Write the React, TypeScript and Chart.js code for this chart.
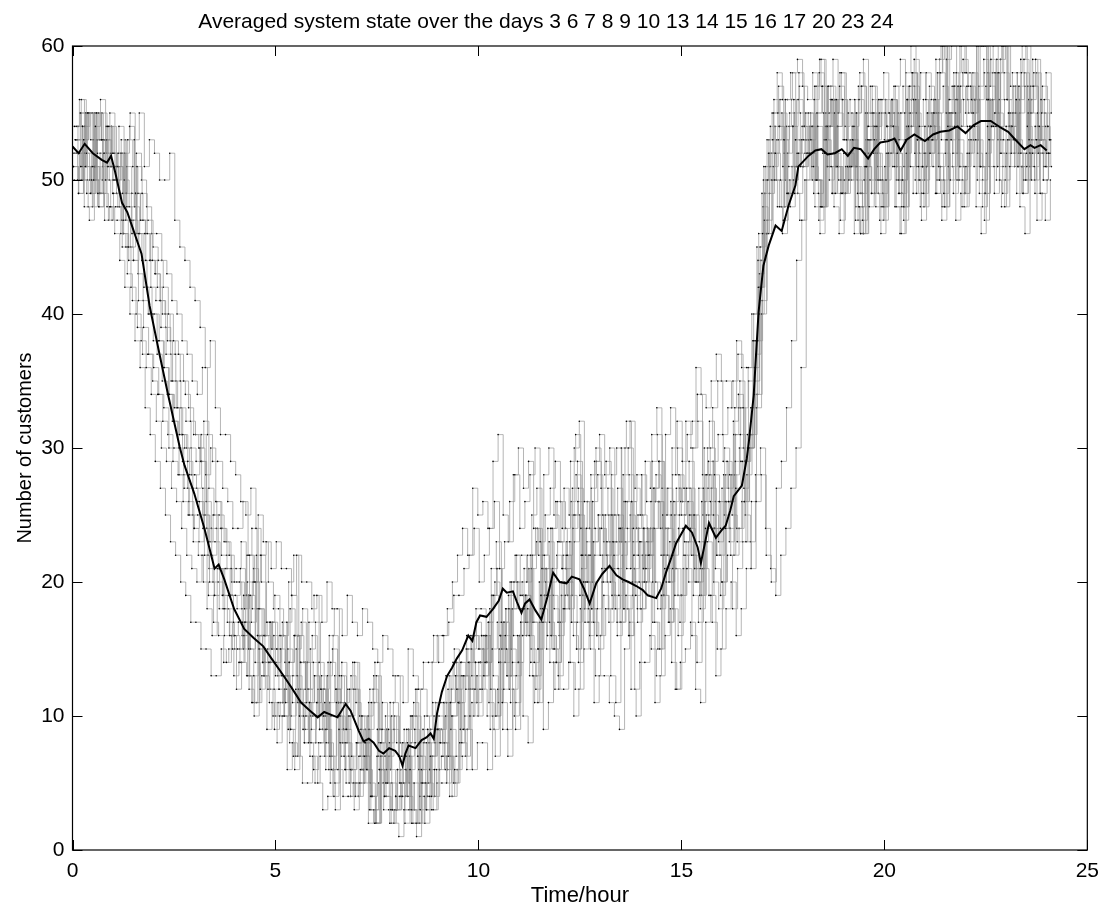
import React, { useEffect, useRef } from 'react';
import { Chart, registerables } from 'chart.js';

Chart.register(...registerables);

const TITLE = 'Averaged system state over the days 3 6 7 8 9 10 13 14 15 16 17 20 23 24';
const X_LABEL = 'Time/hour';
const Y_LABEL = 'Number of customers';
const X_TICKS = [0, 5, 10, 15, 20, 25];
const Y_TICKS = [0, 10, 20, 30, 40, 50, 60];
const DAY_STEP_HOURS = 0.125;

// Individual days: number of customers every 7.5 minutes from the day's first record (193 values, 8 per hour)
const DAY_3 = [52,50,54,55,51,49,53,51, 50,52,47,45,44,41,39,37, 36,34,33,30,30,28,27,25, 24,26,22,20,19,21,18,16, 16,14,17,19,14,12,15,17, 13,15,11,9,12,14,10,8, 10,12,8,6,11,13,9,7, 8,10,6,4,7,9,5,3, 6,4,8,10,7,5,9,11, 9,7,12,14,11,9,14,16, 15,13,17,19,14,12,18,20, 18,21,16,14,20,22,17,15, 20,18,23,25,19,17,22,24, 22,25,20,18,24,26,21,19, 23,21,26,28,22,20,25,27, 25,27,22,20,26,28,24,22, 27,29,25,23,29,31,33,38, 46,50,53,55,51,49,54,56, 53,55,51,49,55,57,52,50, 52,50,54,56,50,48,53,55, 53,55,51,49,55,57,52,50, 54,52,56,58,52,50,55,57, 55,57,53,51,57,59,54,52, 54,52,56,58,52,50,53,55, 52];
const DAY_6 = [53,55,51,49,54,56,50,48, 48,46,45,42,40,38,36,34, 32,30,29,27,26,24,22,21, 20,22,18,16,21,19,17,15, 15,17,13,11,16,14,12,10, 11,13,9,7,12,10,8,6, 8,10,6,4,9,7,5,3, 5,7,3,2,6,4,2,3, 4,2,6,8,3,5,7,9, 8,10,11,13,14,12,16,18, 18,16,21,23,17,15,20,22, 22,20,25,27,21,19,24,26, 24,22,27,29,22,20,26,28, 25,27,23,21,28,30,24,22, 24,22,27,29,22,20,26,28, 27,29,25,23,30,32,28,26, 30,28,33,35,29,31,38,45, 51,54,52,50,56,58,53,51, 55,53,57,59,53,51,56,58, 53,51,55,57,51,49,54,56, 54,56,52,50,56,58,53,51, 55,53,58,60,54,52,57,59, 57,55,60,60,56,54,58,60, 55,53,57,59,53,51,54,56, 53];
const DAY_7 = [51,49,53,55,50,48,52,54, 52,54,50,48,53,55,51,53, 52,50,50,52,47,45,44,42, 41,39,36,38,33,31,31,29, 28,26,25,27,24,22,23,21, 23,21,21,19,22,20,20,18, 19,17,20,18,18,16,19,17, 16,18,17,15,14,16,15,13, 13,11,15,13,12,14,14,16, 14,16,17,19,19,21,22,24, 20,22,24,26,21,23,26,28, 24,26,28,30,23,25,27,29, 26,24,29,31,24,22,28,30, 27,29,25,23,30,32,26,24, 28,26,31,33,27,25,30,32, 29,31,32,34,28,30,33,35, 31,33,35,37,33,36,38,42, 50,52,55,57,53,51,56,58, 54,52,56,58,52,50,55,57, 53,51,56,58,52,50,54,56, 55,53,57,59,53,51,56,58, 56,54,59,60,55,53,58,60, 58,56,60,60,56,54,59,60, 56,54,58,60,54,52,55,57, 54];
const DAY_8 = [54,56,52,50,55,53,53,51, 50,52,48,46,51,49,46,44, 42,40,38,35,33,31,29,27, 26,24,23,25,21,19,19,17, 17,19,15,13,18,16,14,12, 12,10,14,16,10,8,11,13, 9,11,7,5,10,8,6,4, 6,8,4,2,7,5,3,4, 5,7,3,2,6,8,4,6, 7,5,10,12,8,6,11,13, 12,10,15,17,11,9,14,16, 16,18,13,11,17,19,15,13, 18,20,16,14,20,22,17,15, 19,17,22,24,18,16,21,23, 20,22,17,15,21,23,19,17, 22,24,20,18,24,26,21,19, 24,22,27,29,23,21,26,28, 22,20,27,29,33,38,44,47, 52,54,50,48,54,56,51,49, 51,53,49,47,53,55,50,48, 52,54,50,48,54,56,51,49, 53,55,51,49,55,57,50,48, 52,54,49,47,53,55,50,48, 51,53,48,46,52,54,49,47, 50];
const DAY_9 = [50,52,48,47,51,49,47,48, 46,44,42,40,38,36,33,31, 29,27,25,23,22,20,19,17, 17,15,15,13,13,15,14,16, 12,14,13,11,11,13,9,11, 8,10,6,8,7,5,5,7, 5,3,4,6,6,4,4,5, 4,6,2,3,5,3,3,2, 1,3,3,5,2,4,4,6, 6,8,4,6,8,10,10,12, 12,14,9,7,14,16,11,9, 17,19,14,12,19,21,16,14, 20,22,17,15,22,24,18,16, 21,23,19,17,24,26,20,18, 22,24,20,18,25,27,21,19, 24,26,22,20,27,29,25,23, 28,26,31,33,27,30,34,40, 47,52,50,48,53,55,49,47, 50,52,48,46,52,54,49,47, 49,51,47,46,51,53,48,46, 50,52,48,46,52,54,49,47, 51,53,49,47,53,55,50,48, 52,54,50,48,54,56,51,49, 53,55,51,49,55,57,52,50, 52];
const DAY_10 = [53,51,55,55,52,50,54,52, 51,49,53,51,49,47,47,45, 44,42,40,38,37,35,33,31, 30,32,27,25,25,23,22,20, 20,18,22,20,18,16,17,19, 16,14,18,16,14,12,15,17, 12,10,14,12,11,9,13,11, 9,7,11,13,8,6,10,8, 7,9,10,12,12,10,14,16, 16,18,20,22,24,22,27,25, 26,24,29,31,25,23,28,30, 27,29,24,22,28,30,25,23, 27,25,30,32,26,24,29,31, 28,30,25,23,30,32,27,25, 29,27,26,24,31,33,28,26, 32,30,36,34,33,35,37,35, 35,33,38,36,36,40,45,49, 53,55,58,56,56,58,59,57, 56,58,54,52,57,59,55,53, 55,53,57,59,54,52,56,58, 55,57,53,51,57,59,54,52, 57,55,59,60,56,54,60,58, 58,56,60,60,57,55,59,60, 57,55,59,60,55,53,56,58, 55];
const DAY_13 = [52,54,50,48,53,55,49,47, 49,51,46,44,44,46,42,40, 40,38,36,34,33,31,30,28, 28,30,25,23,23,21,21,19, 19,21,17,15,20,22,16,14, 14,16,12,10,15,17,11,9, 11,13,9,7,12,14,8,6, 8,10,6,4,9,11,5,3, 6,8,4,2,7,9,5,3, 9,11,7,5,11,13,12,10, 14,16,11,9,15,17,12,10, 16,18,13,11,17,19,14,12, 17,19,14,12,18,20,15,13, 16,18,13,11,17,19,12,10, 18,20,15,13,19,21,14,12, 19,21,16,14,21,23,17,15, 20,22,18,21,23,30,38,44, 48,46,51,53,47,49,50,52, 51,53,49,47,53,55,48,46, 50,52,46,48,51,53,49,47, 51,53,48,46,53,55,50,48, 52,54,49,51,53,55,47,49, 51,53,48,46,52,54,50,48, 52,54,49,51,51,53,47,49, 50];
const DAY_14 = [53,51,55,53,51,49,54,52, 51,53,49,47,52,50,48,46, 46,44,43,41,40,38,37,35, 34,36,31,29,29,27,26,24, 24,26,22,20,25,23,20,18, 18,16,20,22,16,14,17,19, 14,12,16,18,13,11,12,14, 10,8,12,14,9,7,11,13, 8,6,10,12,7,5,9,11, 11,13,9,7,13,15,15,17, 16,14,19,21,15,13,18,20, 19,17,22,24,18,16,21,23, 21,19,24,26,19,17,23,25, 20,18,23,25,18,16,22,24, 21,19,24,26,19,17,23,25, 23,25,21,19,26,28,24,22, 26,24,29,31,25,23,28,30, 24,21,19,22,24,27,30,36, 50,52,50,48,54,56,51,49, 53,55,51,49,55,57,52,50, 54,56,52,50,56,58,53,51, 53,51,55,57,51,49,54,56, 55,53,57,59,53,51,56,58, 54,52,56,58,52,50,53,55, 53];
const DAY_15 = [52,50,49,51,53,55,48,47, 47,45,43,41,39,37,37,35, 34,32,31,29,28,26,25,23, 22,20,19,17,16,14,15,13, 14,16,12,10,15,13,11,9, 10,12,8,6,11,9,7,5, 7,9,5,3,8,6,4,5, 5,7,3,2,6,4,2,3, 4,6,2,1,5,3,3,5, 5,7,4,6,7,9,6,8, 8,6,10,12,9,7,12,14, 10,8,13,15,9,11,14,12, 12,14,10,12,15,17,11,13, 13,11,10,9,15,17,12,14, 14,16,11,13,16,18,12,14, 15,17,12,11,17,19,13,15, 18,20,16,18,21,26,33,40, 46,50,53,55,49,51,52,54, 52,50,55,57,51,49,54,56, 51,53,47,46,52,54,49,47, 52,54,49,47,54,56,50,48, 53,55,50,48,55,57,51,49, 54,56,51,49,56,58,52,50, 55,57,52,50,57,59,53,51, 53];
const DAY_16 = [51,49,53,55,50,48,52,50, 50,48,52,54,48,46,46,44, 43,41,40,38,37,35,34,32, 31,29,28,30,26,24,23,21, 21,23,19,17,22,20,17,15, 15,13,17,19,13,11,14,16, 11,9,13,15,10,8,12,14, 8,6,10,12,7,5,9,11, 7,5,9,11,6,8,8,10, 10,8,13,15,11,9,14,16, 15,13,18,20,16,14,20,22, 19,17,22,24,18,20,24,26, 23,21,26,28,22,20,27,29, 24,22,28,30,23,21,26,28, 25,23,29,31,24,22,28,30, 26,24,30,32,25,27,29,31, 29,27,32,34,30,35,40,46, 51,53,56,54,52,54,55,57, 54,52,57,59,53,51,56,58, 54,56,51,49,55,57,52,50, 56,54,53,55,58,60,55,53, 58,56,55,53,59,60,56,54, 57,55,60,60,56,54,58,60, 56,58,53,51,57,59,54,52, 54];
const DAY_17 = [52,50,54,55,50,52,53,51, 50,52,47,45,49,47,44,42, 41,39,37,35,33,31,30,28, 27,29,24,22,26,24,21,19, 18,16,20,18,16,14,15,17, 13,11,15,13,11,9,12,14, 10,12,8,6,11,9,7,5, 7,5,9,11,6,4,8,10, 5,3,7,9,4,2,6,8, 8,6,11,13,9,7,12,14, 14,16,12,10,16,18,15,13, 18,16,21,23,17,15,20,22, 21,23,19,17,24,26,20,18, 22,20,25,27,20,18,23,25, 21,23,24,26,19,17,22,24, 22,20,25,27,21,19,24,26, 25,23,28,30,26,30,35,42, 49,51,54,56,50,48,53,55, 53,55,50,48,55,57,52,50, 52,50,55,57,51,49,53,55, 54,56,51,49,56,58,53,51, 55,53,58,60,53,51,56,58, 56,58,53,51,58,60,55,53, 55,57,52,50,56,58,53,51, 52];
const DAY_20 = [53,55,51,49,55,53,52,54, 49,47,51,49,46,44,42,40, 37,35,34,32,31,29,27,25, 25,27,22,20,20,18,18,16, 17,15,19,21,15,13,14,16, 12,10,14,16,10,8,11,13, 9,7,11,13,8,6,10,12, 7,9,5,3,8,10,6,4, 6,4,8,10,5,3,7,9, 9,11,12,14,14,16,13,11, 16,14,19,21,15,13,18,20, 20,22,17,15,22,24,19,17, 22,20,25,27,20,18,23,25, 23,25,21,19,26,28,22,20, 24,22,27,29,22,20,25,27, 25,27,23,21,28,30,26,24, 28,26,31,33,29,33,37,44, 50,52,50,48,54,56,51,53, 53,51,55,57,51,49,54,56, 52,54,50,48,54,56,51,49, 53,51,55,57,51,49,54,56, 54,56,52,50,56,58,53,51, 53,51,56,58,51,49,54,56, 53,51,55,57,51,49,52,54, 52];
const DAY_23 = [52,54,50,48,53,51,51,49, 48,46,45,47,43,41,40,38, 38,36,34,32,30,28,26,24, 23,25,21,19,18,16,17,15, 15,17,13,11,16,14,12,10, 11,13,9,7,12,14,10,8, 8,6,10,12,7,5,6,8, 6,8,4,2,7,9,5,3, 5,7,3,2,6,4,7,9, 8,6,10,12,13,15,12,10, 15,17,13,11,17,19,16,14, 19,21,17,15,21,23,18,16, 20,18,23,25,18,16,22,24, 21,23,19,17,23,25,20,18, 22,24,20,18,24,26,21,19, 23,25,21,19,25,27,22,20, 26,28,24,26,28,31,34,41, 47,50,48,46,52,54,49,51, 52,54,50,48,54,56,51,49, 51,53,48,46,53,55,50,48, 53,55,50,48,55,57,52,50, 52,54,50,48,54,56,51,49, 54,56,51,49,56,58,53,51, 54,56,52,50,56,58,53,51, 51];
const DAY_24 = [54,56,52,50,55,53,53,55, 51,49,53,55,49,47,46,44, 43,41,39,37,35,33,32,30, 29,31,26,24,24,22,22,20, 20,18,22,24,18,16,17,15, 15,17,13,11,16,18,12,10, 12,10,14,16,11,9,10,12, 9,7,11,13,8,6,7,9, 7,9,5,3,8,10,6,4, 9,11,7,5,11,13,12,14, 14,16,12,10,16,18,13,11, 17,19,15,13,19,21,16,14, 19,21,17,15,21,23,18,16, 20,22,18,16,22,24,19,17, 20,22,17,15,22,24,18,16, 21,23,19,17,23,25,20,18, 24,26,22,24,26,30,36,43, 46,49,52,54,48,50,51,53, 52,54,50,48,54,56,51,49, 51,53,48,46,53,55,50,48, 52,54,50,48,54,56,51,49, 53,55,50,48,55,57,52,50, 54,56,52,50,56,58,53,51, 53,55,51,49,55,57,52,50, 52];

const DAYS = [DAY_3, DAY_6, DAY_7, DAY_8, DAY_9, DAY_10, DAY_13, DAY_14, DAY_15, DAY_16, DAY_17, DAY_20, DAY_23, DAY_24];
const DAY_NAMES = ['3', '6', '7', '8', '9', '10', '13', '14', '15', '16', '17', '20', '23', '24'];
// time of each day's first record, in hours
const DAY_START_HOURS = [0, 0.065, 0.02, 0.09, 0.04, 0.11, 0.01, 0.075, 0.1, 0.03, 0.055, 0.085, 0.115, 0.045];

// Averaged system state (black line)
const AVG_T = [0,0.15,0.3,0.5,0.72,0.85,0.95,1.05,1.22,1.35,1.53,1.7,1.9,2.15,2.36,2.64,2.76,3.0,3.25,3.5,3.6,3.74,3.98,4.23,4.47,4.7,4.9,5.2,5.4,5.63,5.85,6.04,6.2,6.36,6.53,6.65,6.73,6.85,6.93,7.05,7.17,7.3,7.42,7.55,7.66,7.8,7.95,8.05,8.13,8.2,8.28,8.45,8.6,8.72,8.82,8.9,8.98,9.1,9.23,9.35,9.47,9.6,9.75,9.85,9.95,10.04,10.2,10.36,10.5,10.6,10.7,10.85,10.95,11.06,11.15,11.26,11.4,11.55,11.7,11.84,12.0,12.17,12.3,12.49,12.6,12.74,12.9,13.05,13.23,13.4,13.55,13.7,13.89,14.05,14.17,14.38,14.5,14.62,14.75,14.87,15.0,15.11,15.26,15.4,15.48,15.6,15.68,15.85,16.0,16.09,16.2,16.29,16.49,16.61,16.66,16.78,16.9,17.02,17.15,17.32,17.47,17.64,17.81,17.88,18.13,18.3,18.45,18.6,18.78,18.95,19.1,19.25,19.42,19.6,19.75,19.9,20.1,20.25,20.4,20.55,20.74,21.0,21.2,21.38,21.6,21.8,22.0,22.2,22.38,22.62,22.87,23.05,23.2,23.45,23.6,23.7,23.85,24.0];
const AVG_V = [52.5,52.0,52.7,52.0,51.5,51.3,51.8,50.6,48.3,47.6,46.0,44.5,40.6,36.9,33.9,30.1,28.7,26.6,24.0,21.0,21.3,20.2,18.0,16.5,15.8,15.2,14.3,13.0,12.1,11.0,10.4,9.9,10.3,10.1,9.9,10.5,10.9,10.4,9.8,8.9,8.1,8.3,8.0,7.4,7.2,7.6,7.4,7.0,6.3,7.2,7.8,7.6,8.2,8.4,8.7,8.3,10.2,11.8,13.0,13.6,14.3,14.9,16.0,15.6,17.0,17.5,17.4,18.0,18.6,19.5,19.2,19.3,18.5,17.7,18.4,18.7,17.9,17.2,18.9,20.7,20.0,19.9,20.4,20.2,19.5,18.4,19.9,20.6,21.2,20.5,20.2,20.0,19.7,19.4,19.0,18.8,19.5,20.7,21.8,22.9,23.6,24.2,23.7,22.6,21.4,23.2,24.4,23.3,23.9,24.2,25.3,26.4,27.2,29.2,30.4,33.9,40.1,43.6,45.1,46.6,46.2,48.1,49.6,51.0,51.8,52.2,52.3,51.9,52.0,52.3,51.8,52.4,52.3,51.6,52.3,52.8,52.9,53.1,52.2,53.0,53.4,52.9,53.4,53.6,53.7,54.0,53.5,54.1,54.4,54.4,53.9,53.6,53.1,52.3,52.6,52.4,52.6,52.2];

const FONT_FAMILY = "'Liberation Sans', Arial, Helvetica, sans-serif";

const framePlugin = {
  id: 'matlabFrame',
  afterDatasetsDraw(chart: any) {
    const { ctx, chartArea, scales } = chart;
    const { left, right, top, bottom } = chartArea;
    ctx.save();
    ctx.strokeStyle = '#000';
    ctx.lineWidth = 1.2;
    ctx.strokeRect(left, top, right - left, bottom - top);
    ctx.lineWidth = 1;
    const tl = 10;
    ctx.beginPath();
    X_TICKS.forEach((v) => {
      const px = Math.round(scales.x.getPixelForValue(v)) + 0.5;
      ctx.moveTo(px, bottom);
      ctx.lineTo(px, bottom - tl);
      ctx.moveTo(px, top);
      ctx.lineTo(px, top + tl);
    });
    Y_TICKS.forEach((v) => {
      const py = Math.round(scales.y.getPixelForValue(v)) + 0.5;
      ctx.moveTo(left, py);
      ctx.lineTo(left + tl, py);
      ctx.moveTo(right, py);
      ctx.lineTo(right - tl, py);
    });
    ctx.stroke();
    ctx.restore();
  },
};

export default function App() {
  const canvasRef = useRef<HTMLCanvasElement | null>(null);

  useEffect(() => {
    if (!canvasRef.current) return;
    const dayDatasets = DAYS.map((vals, i) => ({
      label: 'Day ' + DAY_NAMES[i],
      data: vals.map((v, j) => ({ x: DAY_START_HOURS[i] + j * DAY_STEP_HOURS, y: v })),
      borderColor: 'rgba(140,140,140,0.8)',
      borderWidth: 0.8,
      pointRadius: 0.8,
      pointBorderWidth: 0,
      pointBackgroundColor: '#000',
      stepped: true as const,
      fill: false,
      order: 2,
    }));
    const avgDataset = {
      label: 'Average',
      data: AVG_T.map((t, i) => ({ x: t, y: AVG_V[i] })),
      borderColor: '#000',
      borderWidth: 2,
      pointRadius: 0,
      tension: 0,
      fill: false,
      order: 0,
    };
    const chart = new Chart(canvasRef.current, {
      type: 'line',
      data: { datasets: [...dayDatasets, avgDataset] },
      plugins: [framePlugin],
      options: {
        responsive: false,
        animation: false,
        devicePixelRatio: 1,
        layout: { padding: { left: 0, right: 16, top: 0, bottom: 0 } },
        plugins: {
          legend: { display: false },
          tooltip: { enabled: false },
          title: {
            display: true,
            text: TITLE,
            color: '#000',
            font: { family: FONT_FAMILY, size: 21, weight: 'normal' },
            padding: { top: 9.5, bottom: 11.3 },
          },
        },
        scales: {
          x: {
            type: 'linear',
            min: 0,
            max: 25,
            grid: { display: false, drawTicks: false },
            border: { display: false },
            ticks: {
              stepSize: 5,
              color: '#000',
              padding: 9,
              font: { family: FONT_FAMILY, size: 21 },
            },
            title: {
              display: true,
              text: X_LABEL,
              color: '#000',
              font: { family: FONT_FAMILY, size: 22 },
              padding: { top: 0, bottom: 0 },
            },
            afterFit: (scale: any) => {
              scale.height = 59;
            },
          },
          y: {
            type: 'linear',
            min: 0,
            max: 60,
            grid: { display: false, drawTicks: false },
            border: { display: false },
            ticks: {
              stepSize: 10,
              color: '#000',
              padding: 8,
              font: { family: FONT_FAMILY, size: 21 },
            },
            title: {
              display: true,
              text: Y_LABEL,
              color: '#000',
              font: { family: FONT_FAMILY, size: 20 },
              padding: { top: 13, bottom: 0 },
            },
            afterFit: (scale: any) => {
              scale.width = 72.5;
            },
          },
        },
      },
    });
    return () => chart.destroy();
  }, []);

  return (
    <div style={{ position: 'absolute', left: 0, top: 0, width: 1108, height: 909, background: '#fff' }}>
      <canvas ref={canvasRef} width={1108} height={909} style={{ width: 1108, height: 909, display: 'block' }} />
    </div>
  );
}
